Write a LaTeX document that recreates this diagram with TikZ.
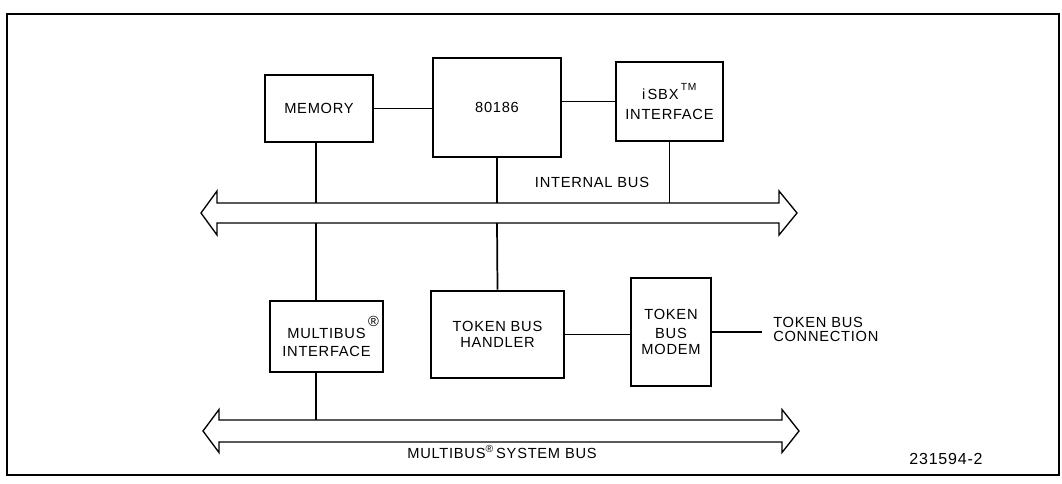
\documentclass[tikz,border=0pt]{standalone}
\usepackage{fontspec}
\setmainfont{Liberation Sans}[LetterSpace=5]
\newcommand\pxu{0.75pt}
\newcommand\dfont{\fontsize{11}{14}\selectfont}
\begin{document}
\begin{tikzpicture}[x=0.75pt,y=-0.75pt,
  box/.style={draw,line width=2pt,inner sep=0pt,align=center,font=\dfont},
  conn/.style={line width=1.3pt},
  bus/.style={line width=1pt,line join=miter},
  lbl/.style={font=\dfont,align=center,inner sep=0pt},
  frame/.style={line width=1.1pt}]
\useasboundingbox (0,0) rectangle (1062,483);
\draw[frame] (7,14) rectangle (1059,475);

% boxes
\node[box,minimum width=108*\pxu,minimum height=67*\pxu] (mem) at (319,108.5) {MEMORY};
\node[box,minimum width=128*\pxu,minimum height=99*\pxu] (cpu) at (497,107.5) {80186};
\node[box,minimum width=107*\pxu,minimum height=79*\pxu] (isbx) at (669.5,101.5)
  {i\,SBX\,\raisebox{0.45ex}{\textsuperscript{TM}}\\[1pt]INTERFACE};
\node[box,minimum width=113*\pxu,minimum height=71*\pxu] (mbi) at (326.5,336.5)
  {MULTIBUS\rlap{\raisebox{1.5ex}{\,\textregistered}}\\INTERFACE};
\node[box,minimum width=133*\pxu,minimum height=87*\pxu] (tbh) at (497.5,334.5)
  {TOKEN BUS\\[-1.5pt]HANDLER};
\node[box,minimum width=80*\pxu,minimum height=108*\pxu] (modem) at (671,332)
  {TOKEN\\BUS\\[-1.5pt]MODEM};

% internal bus
\draw[bus] (201,213) -- (217,191) -- (217,203) -- (779,203) -- (779,191) -- (797,213)
  -- (779,235) -- (779,223) -- (217,223) -- (217,235) -- cycle;
\coordinate (ibT) at (0,203);
\coordinate (ibB) at (0,223);

% system bus
\draw[bus] (203,431) -- (219,409.5) -- (219,420) -- (782,420) -- (782,409.5) -- (799,431)
  -- (782,452.5) -- (782,442) -- (219,442) -- (219,452.5) -- cycle;
\coordinate (sbT) at (0,420);

% connectors
\coordinate (mx) at (316,0);
\draw[conn] (mem.east) -- (mem.east -| cpu.west);
\draw[conn] (isbx.west) -- (isbx.west -| cpu.east);
\draw[conn] (mem.south -| mx) -- (mx |- ibT);
\draw[conn] (mx |- ibB) -- (mx |- mbi.north);
\draw[conn] (mx |- mbi.south) -- (mx |- sbT);
\draw[conn] (cpu.south) -- (cpu.south |- ibT);
\draw[conn] (cpu.south |- ibB) -- (tbh.north);
\draw[conn] (isbx.south) -- (isbx.south |- ibT);
\draw[conn] (tbh.east) -- (tbh.east -| modem.west);
\coordinate (tbc) at (762,332);
\draw[conn] (modem.east) -- (modem.east -| tbc);

% labels
\node[lbl,anchor=west,align=left] (tbctext) at (773,329.5) {TOKEN BUS\\[-3pt]CONNECTION};
\node[lbl] (ibl) at (592,182) {INTERNAL BUS};
\node[lbl,anchor=base] (sbl) at (502,458) {MULTIBUS\textsuperscript{\textregistered}\,SYSTEM BUS};
\node[lbl,anchor=base,font=\fontsize{12}{14}\selectfont] (fig) at (946,464) {231594-2};
\end{tikzpicture}
\end{document}
